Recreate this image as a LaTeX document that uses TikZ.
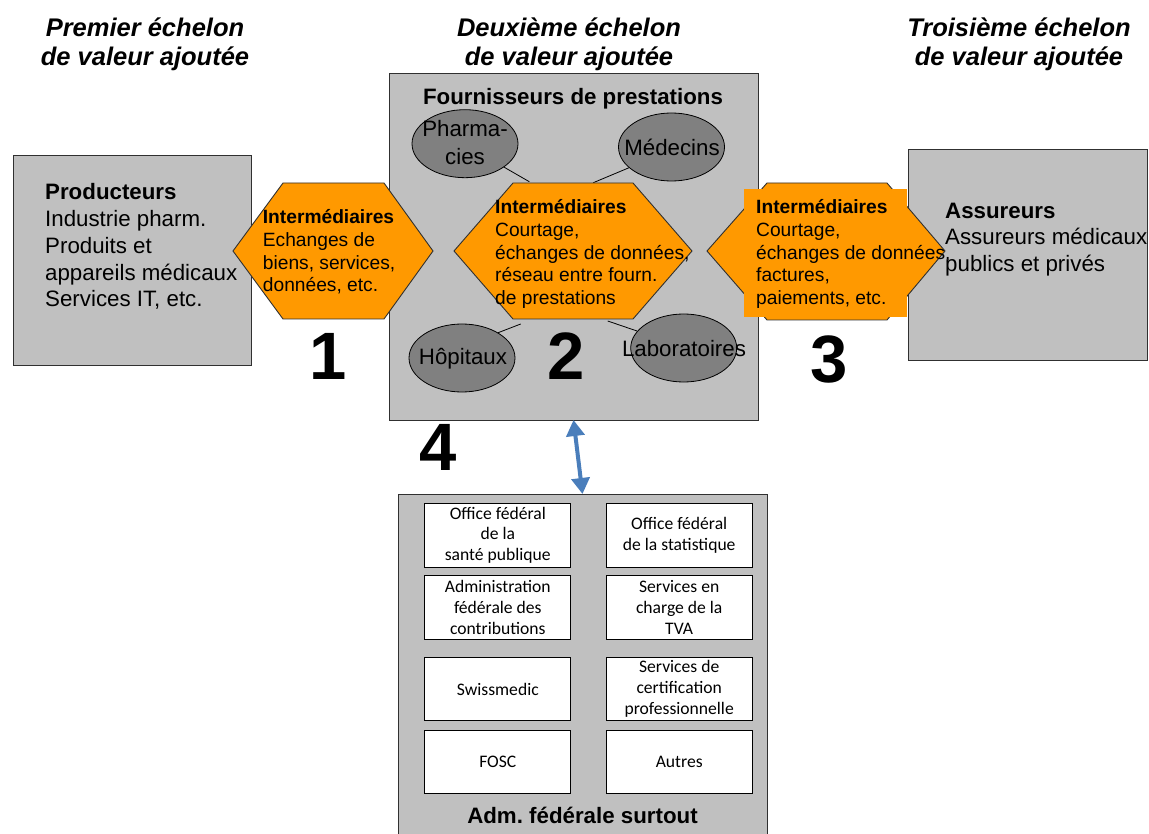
\documentclass[tikz,border=0pt]{standalone}
\usepackage{fontspec}
\setmainfont{Liberation Sans}
\newfontfamily\carlito{Carlito}
\usetikzlibrary{shapes.geometric,arrows.meta}
\frenchspacing

\definecolor{boxgray}{HTML}{C0C0C0}
\definecolor{ellgray}{HTML}{808080}
\definecolor{hexorange}{HTML}{FF9900}
\definecolor{linkblue}{HTML}{4A7EBB}
\definecolor{edgegray}{HTML}{303030}

% font size helper and multi-line blocks anchored on their first baseline
\newcommand{\fsz}[2]{\fontsize{#1}{#2}\selectfont}
\newcommand{\leftlines}[1]{\begin{tabular}[t]{@{}l@{}}#1\end{tabular}}
\newcommand{\midlines}[1]{\begin{tabular}[t]{@{}c@{}}#1\end{tabular}}

\tikzset{
  panel/.style={draw=edgegray, line width=0.9pt, fill=boxgray, inner sep=0pt, outer sep=0pt},
  actor/.style={ellipse, draw=black, line width=0.8pt, fill=ellgray, inner sep=0pt,
                minimum width=106pt, minimum height=68pt},
  hexa/.style={draw=edgegray, line width=0.9pt, fill=hexorange, line join=miter},
  link/.style={draw=black, line width=0.8pt},
  heading/.style={font=\fsz{25.5}{29}\bfseries\itshape, anchor=base, inner sep=0pt},
  bodytxt/.style={font=\fsz{22.3}{26.7}, anchor=base west, inner sep=0pt},
  actortxt/.style={font=\fsz{22.3}{28.3}, anchor=base, inner sep=0pt},
  hextxt/.style={font=\fsz{19.2}{22.9}, anchor=base west, inner sep=0pt},
  bigdigit/.style={font=\fsz{67}{67}\bfseries, anchor=base, inner sep=0pt},
  titletxt/.style={font=\fsz{22.3}{26.7}\bfseries, anchor=base, inner sep=0pt},
  cell/.style={draw=black, line width=0.8pt, fill=white, inner sep=0pt,
               minimum width=146pt, minimum height=63.5pt, align=center,
               font=\carlito\fsz{17.6}{20.8}},
  dbl/.style={draw=linkblue, line width=4pt,
              {Triangle[width=18pt,length=16pt]}-{Triangle[width=18pt,length=16pt]}}
}

\begin{document}
\begin{tikzpicture}[x=1pt,y=-1pt]
\useasboundingbox (0,0) rectangle (1149,834);

% column headings
\node[heading] (h1) at (145,36.5) {\midlines{Premier échelon\\de valeur ajoutée}};
\node[heading] (h2) at (569,36.5) {\midlines{Deuxième échelon\\de valeur ajoutée}};
\node[heading] (h3) at (1019,36.5) {\midlines{Troisième échelon\\de valeur ajoutée}};

% the three main panels
\node[panel, minimum width=238pt, minimum height=210pt] (prod) at (132,260) {};
\node[panel, minimum width=369pt, minimum height=347pt] (fourn) at (573.5,246.5) {};
\node[panel, minimum width=239pt, minimum height=211pt] (assur) at (1027.5,254.5) {};

\node[titletxt] (fourntitle) at (573,105) {Fournisseurs de prestations};

% service providers
\node[actor] (pharm) at (465,143.7) {};
\node[actor] (med) at (671.5,147) {};
\node[actor] (hop) at (462,358) {};
\node[actor] (lab) at (683.7,348) {};

% attachment points on the central hexagon
\coordinate (hxa) at (529.3,181.7);
\coordinate (hxb) at (593.3,182.7);
\coordinate (hxc) at (520.7,324);
\coordinate (hxd) at (607.7,321);

\draw[link] (pharm.-31) -- (hxa);
\draw[link] (med.-154) -- (hxb);
\draw[link] (hop.35) -- (hxc);
\draw[link] (lab.160) -- (hxd);

\node[actortxt] (pharmtxt) at (465,136.7) {\midlines{Pharma-\\cies}};
\node[actortxt] (medtxt) at (672,156) {Médecins};
\node[actortxt] (hoptxt) at (463,365) {Hôpitaux};
\node[actortxt] (labtxt) at (684,357) {Laboratoires};

% intermediaries
\draw[hexa] (233,251) -- (283,183) -- (384,183) -- (433,251) -- (384,319) -- (283,319) -- cycle;
\draw[hexa] (454,251) -- (513,183) -- (633,183) -- (692,251) -- (633,319) -- (513,319) -- cycle;
\draw[hexa] (707,251) -- (767,183) -- (887,183) -- (945,251) -- (887,320) -- (767,320) -- cycle;
\fill[hexorange] (744,189) rectangle (907,317);

\node[hextxt] (hx1txt) at (262.7,223.3)
  {\leftlines{\textbf{Intermédiaires}\\Echanges de\\biens, services,\\données, etc.}};
\node[hextxt] (hx2txt) at (495,213.3)
  {\leftlines{\textbf{Intermédiaires}\\Courtage,\\échanges de données,\\réseau entre fourn.\\de prestations}};
\node[hextxt] (hx3txt) at (756,213.3)
  {\leftlines{\textbf{Intermédiaires}\\Courtage,\\échanges de données,\\factures,\\paiements, etc.}};

% panel texts
\node[bodytxt] (prodtxt) at (45,200)
  {\leftlines{\textbf{Producteurs}\\Industrie pharm.\\Produits et\\appareils médicaux\\Services IT, etc.}};
\node[bodytxt] (assurtxt) at (945,218.3)
  {\leftlines{\textbf{Assureurs}\\Assureurs médicaux\\publics et privés}};

% stage numbers
\node[bigdigit] (n1) at (328,379) {1};
\node[bigdigit] (n2) at (566,379.3) {2};
\node[bigdigit] (n3) at (829,382.5) {3};
\node[bigdigit] (n4) at (438,470) {4};

% federal administration
\node[panel, minimum width=369pt, minimum height=346pt] (adm) at (582.5,667) {};
\node[cell] (c11) at (497.8,535.3) {Office fédéral\\de la\\santé publique};
\node[cell] (c12) at (679.2,535.3) {Office fédéral\\de la statistique};
\node[cell] (c21) at (497.8,607.3) {Administration\\fédérale des\\contributions};
\node[cell] (c22) at (679.2,607.3) {Services en\\charge de la\\TVA};
\node[cell] (c31) at (497.8,689) {Swissmedic};
\node[cell] (c32) at (679.2,689) {Services de\\certification\\professionnelle};
\node[cell] (c41) at (497.8,761.7) {FOSC};
\node[cell] (c42) at (679.2,761.7) {Autres};
\node[titletxt] (admtitle) at (582.5,823.3) {Adm. fédérale surtout};

\draw[dbl] (fourn.south) -- (adm.north);
\end{tikzpicture}
\end{document}
